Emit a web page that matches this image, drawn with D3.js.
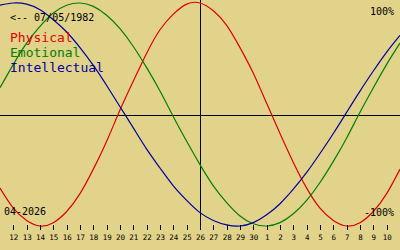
<!DOCTYPE html>
<html>
<head>
<meta charset="utf-8">
<script src="https://cdn.jsdelivr.net/npm/d3@7"></script>
<style>
	body { margin: 0; background: #e2d38a; }
	svg { display: block; }
	text { font-family: "DejaVu Sans Mono", monospace; }
</style>
</head>
<body>
<div id="chart"></div>
<script>
// one point per day, 11 Apr -> 11 May
var dayLabels = ['11','12','13','14','15','16','17','18','19','20','21','22','23','24','25','26','27','28','29','30',
	'1','2','3','4','5','6','7','8','9','10','11'];
var physical = [-66,-84,-95,-100,-97,-87,-71,-49,-24,4,30,55,76,90,99,100,93,80,60,37,10,-17,-43,-66,-84,-95,-100,-97,-87,-71,-49];
var emotional = [24,45,64,79,91,98,100,97,89,77,61,42,21,-2,-24,-45,-64,-79,-91,-98,-100,-97,-89,-77,-61,-42,-21,2,24,45,64];
var intellectual = [98,100,99,94,85,74,60,44,26,7,-12,-31,-48,-64,-77,-88,-95,-99,-100,-97,-90,-80,-67,-52,-35,-17,2,21,39,56,71];
var seriesNames = ['Physical','Emotional','Intellectual'];
var seriesColors = ['#e00000','#008000','#0000a0'];
var todayIndex = 15;   // 26
var birthLabel = '<-- 07/05/1982';
var monthLabel = '04-2026';

var width = 400;
var height = 250;

var svg = d3.select('#chart')
	.append('svg')
	.attr('width', width)
	.attr('height', height);

var x = d3.scaleLinear()
	.domain([0, dayLabels.length - 1])
	.range([0, width]);

var y = d3.scaleLinear()
	.domain([-100, 100])
	.range([226, 3]);

// axes cross
svg.append('line')
	.attr('x1', 0).attr('x2', width)
	.attr('y1', Math.round(y(0)) + 0.5).attr('y2', Math.round(y(0)) + 0.5)
	.attr('stroke', '#000');

svg.append('line')
	.attr('x1', x(todayIndex) + 0.5).attr('x2', x(todayIndex) + 0.5)
	.attr('y1', 0).attr('y2', 230)
	.attr('stroke', '#000');

var line = d3.line()
	.x(function(d, i){ return x(i); })
	.y(function(d){ return y(d); })
	.curve(d3.curveNatural);

[physical, emotional, intellectual].forEach(function(s, k){
	svg.append('path')
		.datum(s)
		.attr('d', line)
		.attr('fill', 'none')
		.attr('stroke', seriesColors[k])
		.attr('stroke-width', 1.2);
});

// day ticks
var axis = d3.axisBottom(x)
	.tickValues(d3.range(1, dayLabels.length - 1))
	.tickFormat(function(i){ return dayLabels[i]; })
	.tickSize(5)
	.tickPadding(5);

var ax = svg.append('g')
	.attr('transform', 'translate(0,225)')
	.call(axis);
ax.select('.domain').remove();
ax.selectAll('line').attr('stroke', '#000').attr('shape-rendering', 'crispEdges');
ax.selectAll('text')
	.attr('fill', '#000')
	.style('font-family', '"DejaVu Sans Mono", monospace')
	.style('font-size', '7.5px');

// labels
svg.append('text')
	.attr('x', 10).attr('y', 21)
	.style('font-size', '10px')
	.text(birthLabel);

svg.selectAll('.legend')
	.data(seriesNames)
	.enter()
	.append('text')
	.attr('class', 'legend')
	.attr('x', 10)
	.attr('y', function(d, i){ return 42 + i * 15; })
	.attr('fill', function(d, i){ return seriesColors[i]; })
	.style('font-size', '13px')
	.text(function(d){ return d; });

svg.append('text')
	.attr('x', 394).attr('y', 15)
	.attr('text-anchor', 'end')
	.style('font-size', '10px')
	.text('100%');

svg.append('text')
	.attr('x', 394).attr('y', 216)
	.attr('text-anchor', 'end')
	.style('font-size', '10px')
	.text('-100%');

svg.append('text')
	.attr('x', 4).attr('y', 215)
	.style('font-size', '10px')
	.text(monthLabel);
</script>
</body>
</html>
